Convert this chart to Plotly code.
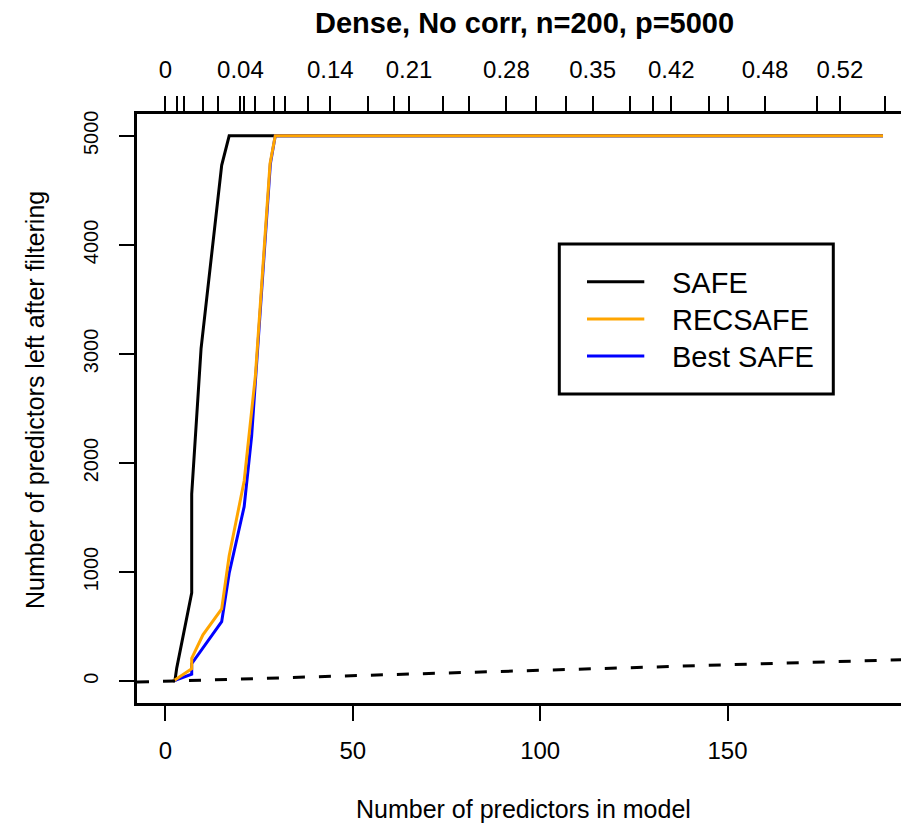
import plotly.graph_objects as go

# Model size along the path (x) and predictors kept after filtering (y)
safe_x = [2.5, 3, 7, 7, 9.5, 15, 17, 191.5]
safe_y = [0, 120, 810, 1715, 3050, 4730, 5000, 5000]

recsafe_x = [2, 7, 7, 10, 15, 17, 21, 24, 27.9, 29.3, 191.5]
recsafe_y = [0, 115, 210, 425, 663, 1150, 1835, 2800, 4745, 5000, 5000]

best_x = [2, 7, 7, 15, 17, 21, 23, 28, 29.3, 191.5]
best_y = [0, 65, 160, 545, 990, 1600, 2250, 4745, 5000, 5000]

# Top axis: model sizes along the lambda path and their lambda fractions
top_ticks = [0, 3, 5, 10, 14, 20, 21, 24, 29, 32, 38, 44, 54, 61, 65, 74, 81,
             91, 99, 107, 114, 124, 130, 135, 145, 150, 160, 174, 180, 192]
top_labels = {0: "0", 20: "0.04", 44: "0.14", 65: "0.21", 91: "0.28",
              114: "0.35", 135: "0.42", 160: "0.48", 180: "0.52"}

x_ticks = [0, 50, 100, 150]
y_ticks = [0, 1000, 2000, 3000, 4000, 5000]

x_range = [-7.6, 196.3]
y_range = [-200, 5200]

series_names = ["SAFE", "RECSAFE", "Best SAFE"]
series_colors = ["black", "orange", "blue"]

FONT = "Liberation Sans, Arial, Helvetica, sans-serif"
W, H = 901, 829
L, R, T, B = 137, 901, 114, 703


def px(p):
    return (p - L) / (R - L)


def py(p):
    return (B - p) / (B - T)


fig = go.Figure()

# reference line y = x
fig.add_trace(go.Scatter(x=x_range, y=x_range, mode="lines", xaxis="x2",
                         line=dict(color="black", width=3, dash="12px,14px"),
                         showlegend=False, hoverinfo="skip"))

for xs, ys, name, col in [(safe_x, safe_y, series_names[0], series_colors[0]),
                          (best_x, best_y, series_names[2], series_colors[2]),
                          (recsafe_x, recsafe_y, series_names[1], series_colors[1])]:
    fig.add_trace(go.Scatter(x=xs, y=ys, mode="lines", name=name,
                             line=dict(color=col, width=3), showlegend=False))

axis_common = dict(showgrid=False, zeroline=False, showline=True,
                   linecolor="black", linewidth=2.5, ticks="outside",
                   ticklen=15, tickwidth=2, tickcolor="black")

fig.update_layout(
    width=W, height=H,
    margin=dict(l=L, r=W - R, t=T, b=H - B, pad=0),
    plot_bgcolor="white", paper_bgcolor="white",
    font=dict(family=FONT, color="black"),
    xaxis=dict(range=x_range, tickmode="array", tickvals=x_ticks,
               ticktext=[str(v) for v in x_ticks], tickfont=dict(size=24),
               ticklabelstandoff=9, **axis_common),
    xaxis2=dict(range=x_range, overlaying="x", side="top", anchor="y",
                tickmode="array", tickvals=top_ticks,
                ticktext=[top_labels.get(v, "") for v in top_ticks],
                tickfont=dict(size=24), ticklabelstandoff=9, **axis_common),
    yaxis=dict(range=y_range, tickmode="array", tickvals=y_ticks,
               ticktext=[str(v) for v in y_ticks], tickangle=-90,
               tickfont=dict(size=20), ticklabelstandoff=13, **axis_common),
)

annotations = [
    dict(text="<b>Dense, No corr, n=200, p=5000</b>", x=px(524), y=py(23),
         font=dict(size=29)),
    dict(text="Number of predictors in model", x=px(523.6), y=py(809),
         font=dict(size=25)),
    dict(text="Number of predictors left after filtering", x=px(35), y=py(400),
         textangle=-90, font=dict(size=25)),
]

# legend
shapes = [dict(type="rect", xref="paper", yref="paper",
               x0=px(559.3), x1=px(833.3), y0=py(394), y1=py(244),
               line=dict(color="black", width=3), fillcolor="white", layer="above")]
for i, (name, col) in enumerate(zip(series_names, series_colors)):
    yy = 281.7 + i * 37.2
    shapes.append(dict(type="line", xref="paper", yref="paper",
                       x0=px(587), x1=px(644.3), y0=py(yy), y1=py(yy),
                       line=dict(color=col, width=3), layer="above"))
    annotations.append(dict(text=name, x=px(670), y=py(yy + 1), xanchor="left",
                            font=dict(size=29)))

for a in annotations:
    a.update(xref="paper", yref="paper", showarrow=False)
    a.setdefault("xanchor", "center")
    a.setdefault("yanchor", "middle")
    a["font"].update(family=FONT, color="black")

fig.update_layout(annotations=annotations, shapes=shapes)
fig.write_html("out.html")
